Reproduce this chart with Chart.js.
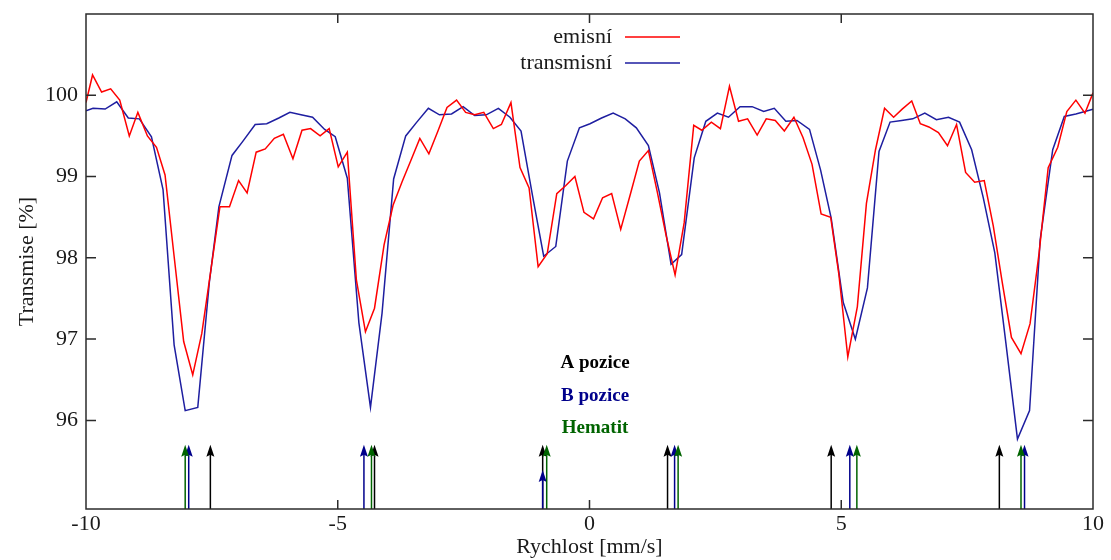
<!DOCTYPE html>
<html>
<head>
<meta charset="utf-8">
<title>Transmise</title>
<script src="https://cdn.jsdelivr.net/npm/chart.js@4.4.1/dist/chart.umd.min.js"></script>
<style>
    html, body { margin: 0; padding: 0; background: #fff; }
</style>
</head>
<body>
<canvas id="spectrumChart" width="1111" height="560"></canvas>
<script>
// Emission spectrum (red)
const emisX = [-10.0, -9.87, -9.69, -9.51, -9.33, -9.14, -8.97, -8.78, -8.60, -8.43, -8.25, -8.06, -7.88, -7.70, -7.52, -7.34, -7.15, -6.97, -6.80, -6.62, -6.44, -6.26, -6.08, -5.89, -5.71, -5.54, -5.35, -5.17, -4.99, -4.81, -4.63, -4.45, -4.27, -4.08, -3.90, -3.72, -3.54, -3.37, -3.19, -3.01, -2.83, -2.64, -2.46, -2.28, -2.10, -1.91, -1.75, -1.56, -1.38, -1.20, -1.02, -0.84, -0.65, -0.47, -0.29, -0.11, 0.08, 0.26, 0.44, 0.62, 0.81, 0.99, 1.17, 1.35, 1.52, 1.70, 1.88, 2.07, 2.23, 2.42, 2.60, 2.78, 2.96, 3.14, 3.33, 3.51, 3.69, 3.87, 4.06, 4.24, 4.42, 4.60, 4.79, 4.95, 5.13, 5.32, 5.50, 5.68, 5.86, 6.04, 6.21, 6.40, 6.57, 6.74, 6.93, 7.11, 7.29, 7.47, 7.65, 7.84, 8.02, 8.20, 8.38, 8.57, 8.75, 8.93, 9.11, 9.30, 9.48, 9.66, 9.84, 10.0];
const emisY = [99.91, 100.25, 100.04, 100.08, 99.94, 99.50, 99.79, 99.50, 99.36, 99.02, 98.02, 96.97, 96.56, 97.07, 97.85, 98.63, 98.63, 98.95, 98.80, 99.30, 99.34, 99.47, 99.52, 99.22, 99.57, 99.59, 99.50, 99.59, 99.12, 99.30, 97.73, 97.09, 97.38, 98.16, 98.65, 98.94, 99.21, 99.47, 99.28, 99.56, 99.85, 99.94, 99.79, 99.76, 99.79, 99.59, 99.64, 99.91, 99.11, 98.86, 97.89, 98.05, 98.79, 98.89, 99.00, 98.56, 98.48, 98.74, 98.79, 98.35, 98.78, 99.19, 99.32, 98.80, 98.28, 97.79, 98.43, 99.63, 99.57, 99.67, 99.59, 100.11, 99.68, 99.71, 99.51, 99.71, 99.69, 99.56, 99.73, 99.48, 99.15, 98.54, 98.50, 97.81, 96.78, 97.40, 98.67, 99.33, 99.84, 99.73, 99.83, 99.93, 99.65, 99.61, 99.54, 99.38, 99.64, 99.05, 98.93, 98.95, 98.39, 97.69, 97.02, 96.82, 97.19, 98.06, 99.11, 99.36, 99.80, 99.94, 99.78, 100.03];

// Transmission spectrum (blue)
const transX = [-10.0, -9.86, -9.62, -9.39, -9.16, -8.94, -8.70, -8.47, -8.25, -8.03, -7.78, -7.55, -7.36, -7.10, -6.89, -6.64, -6.41, -6.17, -5.95, -5.73, -5.50, -5.26, -5.05, -4.81, -4.58, -4.35, -4.12, -3.89, -3.65, -3.43, -3.20, -2.98, -2.74, -2.51, -2.28, -2.05, -1.81, -1.58, -1.36, -1.13, -0.91, -0.67, -0.44, -0.20, 0.01, 0.24, 0.47, 0.71, 0.93, 1.17, 1.39, 1.62, 1.83, 2.08, 2.31, 2.54, 2.76, 2.99, 3.23, 3.46, 3.67, 3.90, 4.12, 4.37, 4.59, 4.80, 5.04, 5.28, 5.52, 5.75, 5.97, 6.20, 6.42, 6.66, 6.89, 7.13, 7.35, 7.59, 7.82, 8.05, 8.27, 8.50, 8.74, 8.95, 9.20, 9.43, 9.66, 9.84, 10.0];
const transY = [99.81, 99.84, 99.83, 99.92, 99.72, 99.71, 99.49, 98.84, 96.93, 96.12, 96.16, 97.70, 98.63, 99.26, 99.43, 99.64, 99.65, 99.72, 99.79, 99.76, 99.73, 99.58, 99.49, 98.98, 97.20, 96.16, 97.32, 98.97, 99.50, 99.67, 99.84, 99.76, 99.77, 99.86, 99.75, 99.76, 99.84, 99.73, 99.56, 98.76, 98.02, 98.14, 99.19, 99.60, 99.65, 99.72, 99.78, 99.71, 99.60, 99.38, 98.80, 97.92, 98.04, 99.23, 99.68, 99.78, 99.73, 99.86, 99.86, 99.80, 99.84, 99.68, 99.69, 99.58, 99.08, 98.49, 97.45, 97.00, 97.63, 99.31, 99.67, 99.69, 99.71, 99.78, 99.70, 99.73, 99.67, 99.33, 98.74, 98.06, 96.95, 95.77, 96.12, 98.22, 99.33, 99.74, 99.77, 99.80, 99.83];

// Line positions (arrows) and arrow tip heights
const posA = [-7.53, -4.27, -0.93, 1.55, 4.80, 8.14];
const posB = [-7.96, -4.48, -0.93, 1.69, 5.17, 8.64];
const posHem = [-8.03, -4.33, -0.85, 1.76, 5.31, 8.57];
const tipA = [95.70, 95.70, 95.70, 95.70, 95.70, 95.70];
const tipB = [95.70, 95.70, 95.39, 95.70, 95.70, 95.70];
const tipHem = [95.70, 95.70, 95.70, 95.70, 95.70, 95.70];

const xTicks = [-10, -5, 0, 5, 10];
const yTicks = [96, 97, 98, 99, 100];

const FONT = '"Liberation Serif", "DejaVu Serif", serif';
const RED = '#ff0000';
const BLUE = '#1e1ea0';
const DARK_BLUE = '#00008b';
const GREEN = '#006400';

function toPoints(xs, ys) {
    return xs.map((x, i) => ({ x: x, y: ys[i] }));
}

// frame, inward ticks, arrows, labels and legend in gnuplot style
const gnuplotPlugin = {
    id: 'gnuplotStyle',
    afterDatasetsDraw(chart) {
        const { ctx, chartArea: a, scales: { x, y } } = chart;
        ctx.save();

        // arrows
        const groups = [
            { pos: posA, tip: tipA, color: '#000000' },
            { pos: posB, tip: tipB, color: DARK_BLUE },
            { pos: posHem, tip: tipHem, color: GREEN }
        ];
        groups.forEach(g => {
            g.pos.forEach((v, i) => {
                const px = x.getPixelForValue(v);
                const py = y.getPixelForValue(g.tip[i]);
                ctx.strokeStyle = g.color;
                ctx.fillStyle = g.color;
                ctx.lineWidth = 1.5;
                ctx.beginPath();
                ctx.moveTo(px, a.bottom);
                ctx.lineTo(px, py + 6);
                ctx.stroke();
                ctx.beginPath();
                ctx.moveTo(px, py);
                ctx.lineTo(px - 4, py + 12);
                ctx.lineTo(px, py + 10);
                ctx.lineTo(px + 4, py + 12);
                ctx.closePath();
                ctx.fill();
            });
        });

        // bold labels
        const labels = [
            { text: 'A pozice', color: '#000000', yv: 96.70 },
            { text: 'B pozice', color: DARK_BLUE, yv: 96.30 },
            { text: 'Hematit', color: GREEN, yv: 95.91 }
        ];
        ctx.font = 'bold 19px ' + FONT;
        ctx.textAlign = 'center';
        ctx.textBaseline = 'middle';
        labels.forEach(l => {
            ctx.fillStyle = l.color;
            ctx.fillText(l.text, x.getPixelForValue(0.11), y.getPixelForValue(l.yv));
        });

        // frame
        ctx.strokeStyle = '#2b2b2b';
        ctx.lineWidth = 1.5;
        ctx.strokeRect(a.left, a.top, a.right - a.left, a.bottom - a.top);
        ctx.beginPath();
        xTicks.slice(1, -1).forEach(v => {
            const px = x.getPixelForValue(v);
            ctx.moveTo(px, a.bottom);
            ctx.lineTo(px, a.bottom - 9);
            ctx.moveTo(px, a.top);
            ctx.lineTo(px, a.top + 9);
        });
        yTicks.forEach(v => {
            const py = y.getPixelForValue(v);
            ctx.moveTo(a.left, py);
            ctx.lineTo(a.left + 10, py);
            ctx.moveTo(a.right, py);
            ctx.lineTo(a.right - 10, py);
        });
        ctx.stroke();

        // legend (text first, then line sample)
        ctx.font = '22px ' + FONT;
        ctx.textAlign = 'right';
        ctx.textBaseline = 'middle';
        chart.data.datasets.forEach((ds, i) => {
            const ly = 37 + i * 26;
            ctx.fillStyle = '#1a1a1a';
            ctx.fillText(ds.label, 612, ly);
            ctx.strokeStyle = ds.borderColor;
            ctx.lineWidth = 1.5;
            ctx.beginPath();
            ctx.moveTo(625, ly);
            ctx.lineTo(680, ly);
            ctx.stroke();
        });
        ctx.restore();
    }
};

const ctx = document.getElementById('spectrumChart').getContext('2d');

new Chart(ctx, {
    type: 'line',
    data: {
        datasets: [
            {
                label: 'emisní',
                data: toPoints(emisX, emisY),
                borderColor: RED,
                borderWidth: 1.5,
                pointRadius: 0,
                tension: 0,
                fill: false
            },
            {
                label: 'transmisní',
                data: toPoints(transX, transY),
                borderColor: BLUE,
                borderWidth: 1.5,
                pointRadius: 0,
                tension: 0,
                fill: false
            }
        ]
    },
    options: {
        responsive: false,
        animation: false,
        layout: {
            padding: { left: 0, right: 18, top: 14, bottom: 0 }
        },
        plugins: {
            legend: { display: false },
            tooltip: { enabled: false }
        },
        scales: {
            x: {
                type: 'linear',
                min: -10,
                max: 10,
                grid: { display: false, drawTicks: false },
                border: { display: false },
                afterBuildTicks: scale => {
                    scale.ticks = xTicks.map(v => ({ value: v }));
                },
                afterFit: scale => {
                    scale.height = 51;
                },
                ticks: {
                    padding: 2,
                    color: '#1a1a1a',
                    font: { family: FONT, size: 22 },
                    maxRotation: 0
                },
                title: {
                    display: true,
                    text: 'Rychlost [mm/s]',
                    color: '#1a1a1a',
                    font: { family: FONT, size: 22 },
                    padding: { top: 0, bottom: 0 }
                }
            },
            y: {
                type: 'linear',
                min: 94.91,
                max: 101.0,
                grid: { display: false, drawTicks: false },
                border: { display: false },
                afterBuildTicks: scale => {
                    scale.ticks = yTicks.map(v => ({ value: v }));
                },
                afterFit: scale => {
                    scale.width = 86;
                    scale.paddingTop = 0;
                    scale.paddingBottom = 0;
                },
                ticks: {
                    padding: 8,
                    color: '#1a1a1a',
                    font: { family: FONT, size: 22 }
                },
                title: {
                    display: true,
                    text: 'Transmise [%]',
                    color: '#1a1a1a',
                    font: { family: FONT, size: 22 },
                    padding: { top: 14, bottom: 0 }
                }
            }
        }
    },
    plugins: [gnuplotPlugin]
});
</script>
</body>
</html>
